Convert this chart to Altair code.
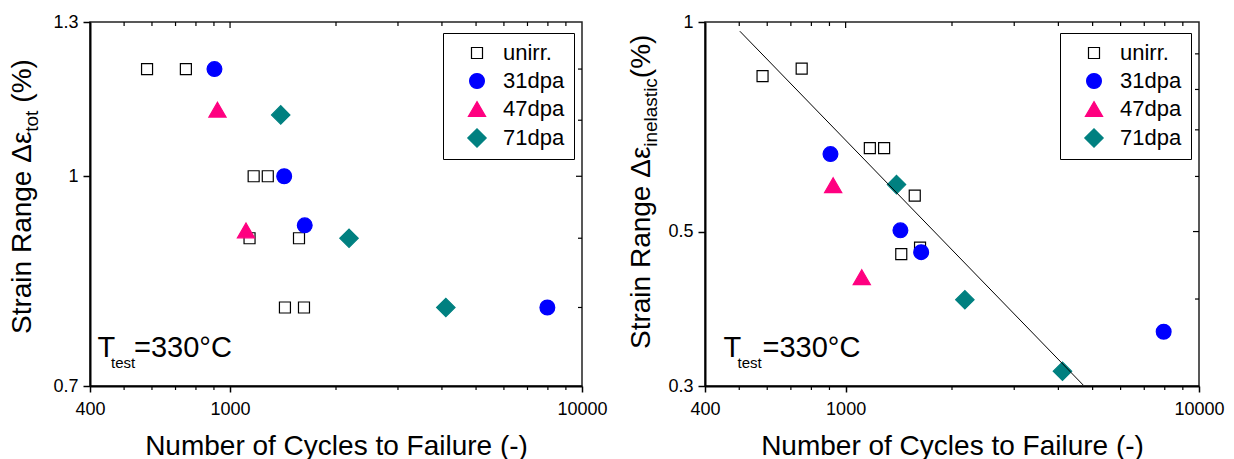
import altair as alt
import pandas as pd

FONT = "Liberation Sans"

# ---------------- data ----------------
series_names = ["unirr.", "31dpa", "47dpa", "71dpa"]

# left panel: total strain range
tot_unirr_N = [581, 749, 1167, 1280, 1136, 1570, 1432, 1622]
tot_unirr_S = [1.2, 1.2, 1.0, 1.0, 0.9, 0.9, 0.8, 0.8]
tot_31_N = [903, 1425, 1630, 7972]
tot_31_S = [1.2, 1.0, 0.92, 0.8]
tot_47_N = [921, 1110]
tot_47_S = [1.12, 0.912]
tot_71_N = [1393, 2178, 4103]
tot_71_S = [1.11, 0.9, 0.8]

# right panel: inelastic strain range
ine_unirr_N = [582, 751, 1171, 1285, 1569, 1437, 1624]
ine_unirr_S = [0.836, 0.857, 0.659, 0.659, 0.563, 0.464, 0.474]
ine_31_N = [906, 1429, 1636, 7944]
ine_31_S = [0.646, 0.502, 0.467, 0.359]
ine_47_N = [922, 1111]
ine_47_S = [0.583, 0.430]
ine_71_N = [1393, 2175, 4108]
ine_71_S = [0.584, 0.399, 0.315]

# fitted line (right panel)
fit_N = [502, 4700]
fit_S = [0.97, 0.301]

# axis ticks
x_major = [400, 1000, 10000]
x_minor = [500, 600, 700, 800, 900, 2000, 3000, 4000, 5000, 6000, 7000, 8000, 9000]
yl_major = [0.7, 1.0, 1.3]
yl_minor = [0.8, 0.9, 1.1, 1.2]
yr_major = [0.3, 0.5, 1.0]
yr_minor = [0.4, 0.6, 0.7, 0.8, 0.9]

# ---------------- styles ----------------
series_shapes = [
    "M-0.55,-0.55H0.55V0.55H-0.55Z",
    "M0.74,0A0.74,0.74,0,1,1,-0.74,0A0.74,0.74,0,1,1,0.74,0Z",
    "M0,-0.74L0.86,0.74L-0.86,0.74Z",
    "M-0.92,0L0,-0.92L0.92,0L0,0.92Z",
]
series_fill = ["transparent", "#0000FF", "#FF0080", "#008080"]
series_stroke = ["#000000", "#0000FF", "#FF0080", "#008080"]

AW = {' ': 278, '(': 333, ')': 333, '%': 889, 'S': 667, 'R': 722, 'a': 556, 'c': 500,
      'e': 556, 'g': 556, 'i': 222, 'l': 222, 'n': 556, 'o': 556, 'r': 333, 's': 500,
      't': 278, 'Δ': 668, 'ε': 440}


def tw(s, fs):
    return sum(AW.get(c, 556) for c in s) * fs / 1000.0


def make_df(groups):
    rows = []
    for name, ns, ss in groups:
        for n, s in zip(ns, ss):
            rows.append({"N": n, "S": s, "series": name})
    return pd.DataFrame(rows)


ONE = pd.DataFrame({"k": [0]})


def panel(df, ydom, ymaj, ymin, W, H, title_main, title_sub, title_end, gap,
          tx, ty, sub_dx, ann, fit=None):
    xs = alt.Scale(type="log", domain=[400, 10000], nice=False)
    ys = alt.Scale(type="log", domain=ydom, nice=False)
    xax = alt.Axis(values=x_major, format="~g", title="Number of Cycles to Failure (-)",
                   labelFont=FONT, labelFontSize=18, labelColor="black", labelFlush=False,
                   labelOverlap=False, labelPadding=8, tickSize=6, tickWidth=1.5,
                   tickColor="black", domainColor="black", domainWidth=2, grid=False,
                   titleFont=FONT, titleFontSize=28, titleFontWeight="normal",
                   titleColor="black", titlePadding=14)
    yax = alt.Axis(values=ymaj, format="~g", title=None,
                   labelFont=FONT, labelFontSize=18, labelColor="black", labelFlush=False,
                   labelOverlap=False, labelPadding=5, tickSize=7, tickWidth=1.5,
                   tickColor="black", domainColor="black", domainWidth=2, grid=False)
    leg = alt.Legend(orient="none", legendX=W - 139, legendY=11, title=None,
                     labelFont=FONT, labelFontSize=22, labelColor="black", padding=9,
                     rowPadding=6, labelOffset=15, symbolOffset=14, strokeColor="black",
                     fillColor="white", symbolStrokeWidth=1.2, symbolSize=400)
    X = alt.X("N:Q", scale=xs, axis=xax)
    Y = alt.Y("S:Q", scale=ys, axis=yax)
    layers = []
    pts = alt.Chart(df).mark_point(filled=True, opacity=1, size=400, strokeWidth=1.2).encode(
        x=X, y=Y,
        shape=alt.Shape("series:N", scale=alt.Scale(domain=series_names, range=series_shapes), legend=leg),
        fill=alt.Fill("series:N", scale=alt.Scale(domain=series_names, range=series_fill), legend=leg),
        stroke=alt.Stroke("series:N", scale=alt.Scale(domain=series_names, range=series_stroke), legend=leg),
        order=alt.Order("ord:Q"),
    ).transform_calculate(ord="indexof(['unirr.','31dpa','47dpa','71dpa'], datum.series)")
    layers.append(pts)
    if fit is not None:
        layers.append(alt.Chart(fit).mark_line(color="black", strokeWidth=1).encode(x=X, y=Y))
    # minor / mirror ticks
    xmin_df = pd.DataFrame({"N": x_minor})
    xmaj_df = pd.DataFrame({"N": x_major[1:2]})
    ymin_df = pd.DataFrame({"S": ymin})
    ymaj_df = pd.DataFrame({"S": ymaj[1:2]})
    layers.append(alt.Chart(xmin_df).mark_rule(color="black", strokeWidth=1.2).encode(
        x=X, y=alt.value(H), y2=alt.value(H + 4)))
    layers.append(alt.Chart(xmin_df).mark_rule(color="black", strokeWidth=1.2).encode(
        x=X, y=alt.value(0), y2=alt.value(4)))
    layers.append(alt.Chart(xmaj_df).mark_rule(color="black", strokeWidth=1.2).encode(
        x=X, y=alt.value(0), y2=alt.value(6)))
    layers.append(alt.Chart(ymin_df).mark_rule(color="black", strokeWidth=1.2).encode(
        y=Y, x=alt.value(W), x2=alt.value(W - 4)))
    layers.append(alt.Chart(ymaj_df).mark_rule(color="black", strokeWidth=1.2).encode(
        y=Y, x=alt.value(W), x2=alt.value(W - 6)))
    # rotated y title with subscript
    y1 = ty - tw(title_main, 28)
    y2 = y1 - tw(title_sub, 19) - gap
    for txt, fs, x, y in [(title_main, 28, tx, ty), (title_sub, 19, tx + sub_dx, y1),
                          (title_end, 28, tx, y2)]:
        layers.append(alt.Chart(ONE).mark_text(text=txt, angle=270, align="left",
                                               baseline="alphabetic", font=FONT, fontSize=fs,
                                               color="black").encode(x=alt.value(x), y=alt.value(y)))
    # temperature annotation
    for txt, fs, x, y in ann:
        layers.append(alt.Chart(ONE).mark_text(text=txt, align="left", baseline="alphabetic",
                                               font=FONT, fontSize=fs, color="black").encode(
            x=alt.value(x), y=alt.value(y)))
    return alt.layer(*layers).properties(width=W, height=H)


df_left = make_df([("unirr.", tot_unirr_N, tot_unirr_S), ("31dpa", tot_31_N, tot_31_S),
                   ("47dpa", tot_47_N, tot_47_S), ("71dpa", tot_71_N, tot_71_S)])
df_right = make_df([("unirr.", ine_unirr_N, ine_unirr_S), ("31dpa", ine_31_N, ine_31_S),
                    ("47dpa", ine_47_N, ine_47_S), ("71dpa", ine_71_N, ine_71_S)])
df_fit = pd.DataFrame({"N": fit_N, "S": fit_S})

left = panel(df_left, [0.7, 1.3], yl_major, yl_minor, 492, 364,
             "Strain Range Δε", "tot", "(%)", 8, -59, 312, 7,
             [("T", 29, 7.5, 335), ("test", 15, 21, 345.7), ("=330°C", 29, 44, 335)])
right = panel(df_right, [0.3, 1.0], yr_major, yr_minor, 494, 364,
              "Strain Range Δε", "inelastic", "(%)", 0, -55, 327, 7,
              [("T", 29, 18.5, 335), ("test", 15, 32.5, 345.7), ("=330°C", 29, 57.5, 335)],
              fit=df_fit)

chart = alt.hconcat(left, right, spacing=123, bounds="flush").resolve_scale(
    x="independent", y="independent", shape="independent", fill="independent",
    stroke="independent").resolve_legend(
    shape="independent", fill="independent", stroke="independent").properties(
    padding={"left": 0, "top": 4, "right": 0, "bottom": 0}).configure_view(
    stroke="#222222", strokeWidth=1.5)

chart.save("out.html", embed_options={"renderer": "svg", "actions": False})
